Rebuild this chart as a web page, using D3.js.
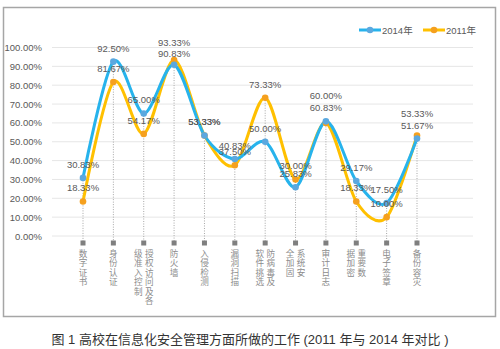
<!doctype html>
<html>
<head>
<meta charset="utf-8"/>
<title>高校在信息化安全管理方面所做的工作</title>
<script src="https://cdn.jsdelivr.net/npm/d3@7"></script>
<style>
  body { margin: 0; background: #fff; }
  svg text { font-family: "Liberation Sans", "Noto Sans CJK SC", sans-serif; }
</style>
</head>
<body>
<script>
// categories, each split into the columns it wraps to (right column first)
var categories = ["数字证书", "身份认证", "授权访问及各级准入控制", "防火墙", "入侵检测", "漏洞扫描",
                  "防病毒及软件挑选", "系统安全加固", "审计日志", "重要数据加密", "电子签章", "备份容灾"];
var catColumns = [["数字证书"], ["身份认证"], ["授权访问及各", "级准入控制"], ["防火墙"], ["入侵检测"], ["漏洞扫描"],
                  ["防病毒及", "软件挑选"], ["系统安", "全加固"], ["审计日志"], ["重要数", "据加密"], ["电子签章"], ["备份容灾"]];
var y2014 = [30.83, 92.50, 65.00, 90.83, 53.33, 40.83, 50.00, 25.83, 60.83, 29.17, 17.50, 51.67];
var y2011 = [18.33, 81.67, 54.17, 93.33, 53.33, 37.50, 73.33, 30.00, 60.00, 18.33, 10.00, 53.33];
var yTicks = [0, 10, 20, 30, 40, 50, 60, 70, 80, 90, 100];
var seriesNames = ["2014年", "2011年"];

var svg = d3.select("body").append("svg")
  .attr("width", 500)
  .attr("height", 349);

// outer frame
svg.append("rect")
  .attr("x", 3.5).attr("y", 7.5)
  .attr("width", 492).attr("height", 309)
  .attr("fill", "none")
  .attr("stroke", "#a6a6a6")
  .attr("stroke-width", 1.5);

var x = d3.scalePoint().domain(categories).range([83, 417]);
var y = d3.scaleLinear().domain([0, 100]).range([236, 47.5]);
var gridL = 52, gridR = 473, tickY = 243;

// gridlines + y labels
svg.selectAll(".grid").data(yTicks).enter().append("line")
  .attr("x1", gridL).attr("x2", gridR)
  .attr("y1", function(d){ return y(d); })
  .attr("y2", function(d){ return y(d); })
  .attr("stroke", "#e6e6e6").attr("stroke-width", 1);

svg.selectAll(".ylab").data(yTicks).enter().append("text")
  .attr("x", 42)
  .attr("y", function(d){ return y(d) + 3.5; })
  .attr("text-anchor", "end")
  .attr("font-size", 9.5)
  .attr("fill", "#595959")
  .text(function(d){ return d.toFixed(2) + "%"; });

// drop lines from the higher point to the axis
categories.forEach(function(c, i) {
  var top = Math.max(y2014[i], y2011[i]);
  svg.append("line")
    .attr("x1", x(c)).attr("x2", x(c))
    .attr("y1", y(top)).attr("y2", tickY)
    .attr("stroke", "#a6a6a6").attr("stroke-width", 1)
    .attr("stroke-dasharray", "1,1.5");
  svg.append("rect")
    .attr("x", x(c) - 2.5).attr("y", tickY - 2.5)
    .attr("width", 5).attr("height", 5)
    .attr("fill", "#7f7f7f");
});

// category labels, vertical, stacked characters
categories.forEach(function(c, i) {
  var cols = catColumns[i];
  var n = cols.length;
  cols.forEach(function(col, k) {
    var cx = x(c) + (n == 1 ? 0 : (k == 0 ? 5.5 : -5.5));
    col.split("").forEach(function(ch, j) {
      svg.append("text")
        .attr("x", cx)
        .attr("y", 257 + j * 9.4)
        .attr("text-anchor", "middle")
        .attr("font-family", "Noto Sans CJK SC")
        .attr("font-size", 8.6)
        .attr("fill", "#8c8c8c")
        .text(ch);
    });
  });
});

var line = d3.line()
  .x(function(d, i){ return x(categories[i]); })
  .y(function(d){ return y(d); })
  .curve(d3.curveCardinal.tension(0.1));

var series = [
  { name: seriesNames[1], values: y2011, line: "#ffc000", mark: "#f5a01e" },
  { name: seriesNames[0], values: y2014, line: "#27b3ec", mark: "#5ba8df" }
];

series.forEach(function(s) {
  svg.append("path")
    .datum(s.values)
    .attr("d", line)
    .attr("fill", "none")
    .attr("stroke", s.line)
    .attr("stroke-width", 3);
});
series.forEach(function(s) {
  svg.selectAll(null).data(s.values).enter().append("circle")
    .attr("cx", function(d, i){ return x(categories[i]); })
    .attr("cy", function(d){ return y(d); })
    .attr("r", 3.3)
    .attr("fill", s.mark);
});

// data labels
function addLabels(vals, lift) {
  svg.selectAll(null).data(vals).enter().append("text")
    .attr("x", function(d, i){ return x(categories[i]); })
    .attr("y", function(d, i){ return y(d) - (lift[i] || 10); })
    .attr("text-anchor", "middle")
    .attr("font-size", 9.5)
    .attr("fill", "#595959")
    .text(function(d){ return d.toFixed(2) + "%"; });
}
addLabels(y2014, [10, 10, 10, 8, 10, 10, 10, 10, 10, 10, 10, 10]);
addLabels(y2011, [10, 10, 10, 14, 10, 10, 10, 10, 24, 10, 10, 18]);

// legend
var legend = [
  { name: seriesNames[0], line: "#27b3ec", mark: "#5ba8df", x: 359 },
  { name: seriesNames[1], line: "#ffc000", mark: "#f5a01e", x: 423 }
];
legend.forEach(function(l) {
  svg.append("line")
    .attr("x1", l.x).attr("x2", l.x + 22)
    .attr("y1", 30).attr("y2", 30)
    .attr("stroke", l.line).attr("stroke-width", 3);
  svg.append("circle")
    .attr("cx", l.x + 11).attr("cy", 30).attr("r", 3.3)
    .attr("fill", l.mark);
  svg.append("text")
    .attr("x", l.x + 23).attr("y", 33.5)
    .attr("font-size", 9.5)
    .attr("fill", "#595959")
    .text(l.name);
});

// caption
svg.append("text")
  .attr("x", 250).attr("y", 344)
  .attr("text-anchor", "middle")
  .attr("font-size", 13)
  .attr("fill", "#333")
  .text("图 1 高校在信息化安全管理方面所做的工作 (2011 年与 2014 年对比 )");
</script>
</body>
</html>
